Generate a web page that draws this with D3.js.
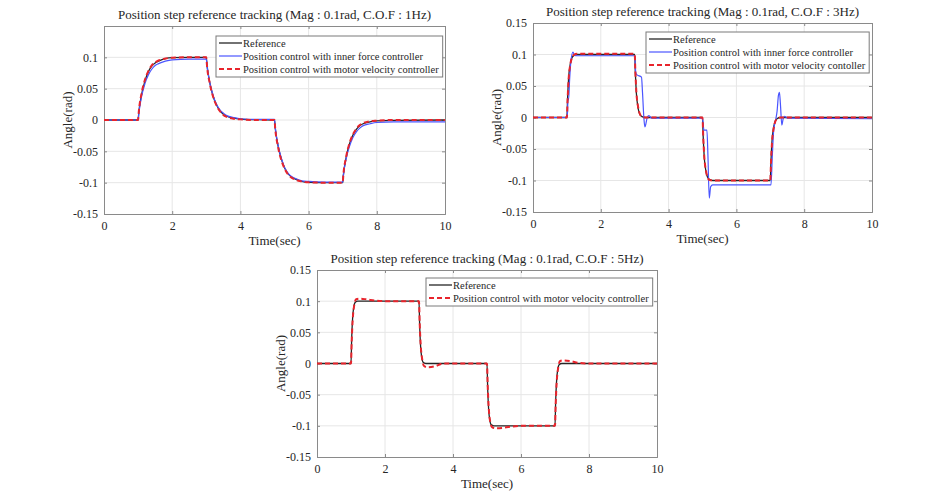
<!DOCTYPE html>
<html>
<head>
<meta charset="utf-8">
<script src="https://cdn.jsdelivr.net/npm/d3@7"></script>
<style>
body { margin: 0; background: #fff; }
text { font-family: "Liberation Serif", "DejaVu Serif", serif; fill: #262626; }
</style>
</head>
<body>
<script>
// ---- panel 1 : C.O.F 1Hz (one time base for all three series)
var t1 = [0, 1, 1.02, 1.1, 1.2, 1.3, 1.4, 1.5, 1.6, 1.8, 2, 2.5, 3, 3.02, 3.1, 3.2, 3.3, 3.4, 3.5, 3.6, 3.8, 4, 4.5, 5,
          5.02, 5.1, 5.2, 5.3, 5.4, 5.5, 5.6, 5.8, 6, 6.5, 7, 7.02, 7.1, 7.2, 7.3, 7.4, 7.5, 7.6, 7.8, 8, 8.5, 10];
var ref1 = [0, 0, 0.012, 0.04, 0.062, 0.077, 0.086, 0.091, 0.094, 0.098, 0.0995, 0.1, 0.1, 0.088, 0.06, 0.038, 0.024, 0.015, 0.009, 0.006, 0.003, 0.0015, 0.0005, 0,
            -0.012, -0.04, -0.062, -0.077, -0.086, -0.091, -0.094, -0.098, -0.0995, -0.1, -0.1, -0.088, -0.06, -0.038, -0.024, -0.015, -0.009, -0.006, -0.003, -0.0015, -0.0005, 0];
var inner1 = [0, 0, 0.01, 0.037, 0.058, 0.072, 0.081, 0.087, 0.09, 0.094, 0.096, 0.097, 0.097, 0.087, 0.06, 0.039, 0.025, 0.016, 0.011, 0.007, 0.004, 0.002, 0.001, 0.001,
              -0.011, -0.039, -0.061, -0.076, -0.085, -0.09, -0.093, -0.097, -0.098, -0.099, -0.099, -0.088, -0.062, -0.042, -0.028, -0.019, -0.013, -0.009, -0.006, -0.004, -0.003, -0.003];
var motor1 = [0, 0, 0.013, 0.042, 0.064, 0.078, 0.087, 0.092, 0.095, 0.098, 0.0995, 0.1, 0.1, 0.087, 0.059, 0.037, 0.023, 0.014, 0.008, 0.005, 0.002, 0.001, 0, 0,
              -0.013, -0.042, -0.064, -0.078, -0.087, -0.092, -0.095, -0.098, -0.0995, -0.1, -0.1, -0.087, -0.059, -0.037, -0.023, -0.014, -0.008, -0.005, -0.002, -0.001, 0, 0];

// ---- panel 2 : C.O.F 3Hz
var tRef2 = [0, 1, 1.02, 1.05, 1.1, 1.15, 1.2, 1.3, 3, 3.02, 3.05, 3.1, 3.15, 3.2, 3.3, 5, 5.02, 5.05, 5.1, 5.15, 5.2, 5.3, 7, 7.02, 7.05, 7.1, 7.15, 7.2, 7.3, 10];
var ref2 = [0, 0, 0.03, 0.062, 0.085, 0.095, 0.098, 0.1, 0.1, 0.07, 0.038, 0.015, 0.005, 0.002, 0, 0, -0.03, -0.062, -0.085, -0.095, -0.098, -0.1, -0.1, -0.07, -0.038, -0.015, -0.005, -0.002, 0, 0];
var motor2 = [0, 0, 0.028, 0.06, 0.084, 0.095, 0.099, 0.101, 0.101, 0.072, 0.04, 0.017, 0.006, 0.002, 0, 0, -0.028, -0.06, -0.084, -0.095, -0.099, -0.1, -0.1, -0.072, -0.04, -0.017, -0.006, -0.002, 0, 0];
var tInner2 = [0, 1, 1.02, 1.03, 1.05, 1.08, 1.12, 1.18, 1.22, 1.3, 3, 3.03, 3.06, 3.2, 3.23, 3.27, 3.3, 3.33, 3.37, 3.42, 3.5,
               5, 5.02, 5.04, 5.13, 5.16, 5.2, 5.24, 5.3, 7.02, 7.06, 7.1, 7.16, 7.2, 7.24, 7.27, 7.3, 7.34, 7.38, 7.42, 7.5, 10];
var inner2 = [0, 0, 0.01, 0.03, 0.028, 0.06, 0.09, 0.104, 0.099, 0.098, 0.098, 0.072, 0.068, 0.064, 0.04, 0, -0.015, -0.01, 0, 0.003, -0.001,
              -0.001, -0.01, -0.02, -0.02, -0.06, -0.128, -0.11, -0.107, -0.107, -0.06, -0.02, -0.003, 0.01, 0.035, 0.04, 0.02, -0.012, -0.002, 0.002, -0.001, -0.002];

// ---- panel 3 : C.O.F 5Hz
var tRef3 = [0, 1, 1.02, 1.05, 1.08, 1.12, 1.2, 3, 3.02, 3.05, 3.08, 3.12, 3.2, 5, 5.02, 5.05, 5.08, 5.12, 5.2, 7, 7.02, 7.05, 7.08, 7.12, 7.2, 10];
var ref3 = [0, 0, 0.04, 0.075, 0.09, 0.098, 0.1, 0.1, 0.06, 0.025, 0.01, 0.002, 0, 0, -0.04, -0.075, -0.09, -0.098, -0.1, -0.1, -0.06, -0.025, -0.01, -0.002, 0, 0];
var tMotor3 = [0, 1, 1.02, 1.05, 1.1, 1.15, 1.25, 1.45, 1.7, 2, 3, 3.02, 3.05, 3.1, 3.15, 3.25, 3.5, 3.7,
               5, 5.02, 5.05, 5.1, 5.15, 5.25, 5.5, 5.75, 6, 7, 7.02, 7.05, 7.1, 7.15, 7.25, 7.45, 7.7, 8, 10];
var motor3 = [0, 0, 0.035, 0.07, 0.095, 0.103, 0.104, 0.103, 0.101, 0.1, 0.1, 0.065, 0.03, 0.005, -0.004, -0.006, -0.004, 0,
              0, -0.035, -0.07, -0.095, -0.102, -0.104, -0.103, -0.101, -0.1, -0.1, -0.065, -0.03, -0.005, 0.004, 0.005, 0.004, 0.001, 0, 0];

var xTicks = [0, 2, 4, 6, 8, 10];
var yTicksFull = [-0.15, -0.1, -0.05, 0, 0.05, 0.1, 0.15];
var yTicksNoTop = [-0.15, -0.1, -0.05, 0, 0.05, 0.1];

var legRef = 'Reference';
var legInner = 'Position control with inner force controller';
var legMotor = 'Position control with motor velocity controller';
var legMotorTypo = 'Position control with motor velocity contoller';

var styles = {
    ref: { color: '#262626', width: 1.3, dash: null },
    inner: { color: '#4a55ff', width: 1.2, dash: null },
    motor: { color: '#e8242c', width: 2, dash: '5,3' }
};

function zip(ts, vs) {
    return ts.map(function (t, i) { return { t: t, v: vs[i] }; });
}

var svg = d3.select('body').append('svg')
    .attr('width', 936)
    .attr('height', 495);

function drawPanel(p) {
    var x = d3.scaleLinear().domain([0, 10]).range([p.left, p.right]);
    var y = d3.scaleLinear().domain([-0.15, 0.15]).range([p.bottom, p.top]);
    var g = svg.append('g');

    // grid
    g.selectAll('.gx').data(xTicks.slice(1, -1)).enter().append('line')
        .attr('x1', function (d) { return x(d); }).attr('x2', function (d) { return x(d); })
        .attr('y1', p.top).attr('y2', p.bottom)
        .attr('stroke', '#e6e6e6').attr('stroke-width', 1);
    g.selectAll('.gy').data(yTicksFull.slice(1, -1)).enter().append('line')
        .attr('y1', function (d) { return y(d); }).attr('y2', function (d) { return y(d); })
        .attr('x1', p.left).attr('x2', p.right)
        .attr('stroke', '#e6e6e6').attr('stroke-width', 1);

    // axes (ticks inside, MATLAB style)
    var fmt = function (d) { return d3.format('~g')(d).replace('−', '-'); };
    g.append('g').attr('transform', 'translate(0,' + p.bottom + ')')
        .call(d3.axisBottom(x).tickValues(xTicks).tickSize(-3).tickPadding(7).tickFormat(fmt))
        .call(styleAxis);
    g.append('g').attr('transform', 'translate(' + p.left + ',0)')
        .call(d3.axisLeft(y).tickValues(p.yTicks).tickSize(-3).tickPadding(6).tickFormat(fmt))
        .call(styleAxis);
    g.append('g').attr('transform', 'translate(0,' + p.top + ')')
        .call(d3.axisTop(x).tickValues(xTicks).tickSize(-3).tickFormat(''))
        .call(styleAxis);
    g.append('g').attr('transform', 'translate(' + p.right + ',0)')
        .call(d3.axisRight(y).tickValues(yTicksFull).tickSize(-3).tickFormat(''))
        .call(styleAxis);

    // curves
    var line = d3.line()
        .x(function (d) { return x(d.t); })
        .y(function (d) { return y(d.v); })
        .curve(d3.curveMonotoneX);
    p.series.forEach(function (s) {
        var st = styles[s.kind];
        g.append('path')
            .datum(zip(s.t, s.v))
            .attr('d', line)
            .attr('fill', 'none')
            .attr('stroke', st.color)
            .attr('stroke-width', st.width)
            .attr('stroke-dasharray', st.dash);
    });

    // labels
    g.append('text')
        .attr('x', (p.left + p.right) / 2).attr('y', p.top - 7)
        .attr('text-anchor', 'middle').attr('font-size', 13)
        .text(p.title);
    g.append('text')
        .attr('x', (p.left + p.right) / 2).attr('y', p.bottom + 31)
        .attr('text-anchor', 'middle').attr('font-size', 13)
        .text('Time(sec)');
    g.append('text')
        .attr('transform', 'translate(' + (p.left - 32) + ',' + (p.top + p.bottom) / 2 + ') rotate(-90)')
        .attr('text-anchor', 'middle').attr('font-size', 13)
        .text('Angle(rad)');

    // legend
    var leg = g.append('g').attr('transform', 'translate(' + p.legX + ',' + p.legY + ')');
    var box = leg.append('rect')
        .attr('fill', '#fff').attr('stroke', '#7a7a7a').attr('stroke-width', 1);
    var maxW = 0;
    p.series.forEach(function (s, i) {
        var st = styles[s.kind];
        var cy = 7 + i * 13;
        leg.append('line')
            .attr('x1', 3).attr('x2', 26).attr('y1', cy).attr('y2', cy)
            .attr('stroke', st.color).attr('stroke-width', st.width)
            .attr('stroke-dasharray', st.dash);
        var tx = leg.append('text')
            .attr('x', 27).attr('y', cy + 3.5)
            .attr('font-size', 10.5)
            .text(s.label);
        maxW = Math.max(maxW, tx.node().getComputedTextLength());
    });
    box.attr('x', 0).attr('y', 0)
        .attr('width', 27 + maxW + 4)
        .attr('height', 13 * p.series.length + 2);
}

function styleAxis(sel) {
    sel.select('.domain').attr('stroke', '#8a8a8a');
    sel.selectAll('.tick line').attr('stroke', '#8a8a8a');
    sel.selectAll('.tick text').attr('font-size', 12).attr('fill', '#262626')
        .style('font-family', '"Liberation Serif", serif');
}

drawPanel({
    left: 104, right: 445, top: 26, bottom: 214, yTicks: yTicksNoTop,
    title: 'Position step reference tracking (Mag : 0.1rad, C.O.F : 1Hz)',
    legX: 216, legY: 36,
    series: [
        { kind: 'ref', t: t1, v: ref1, label: legRef },
        { kind: 'inner', t: t1, v: inner1, label: legInner },
        { kind: 'motor', t: t1, v: motor1, label: legMotor }
    ]
});

drawPanel({
    left: 533, right: 872, top: 23, bottom: 212, yTicks: yTicksFull,
    title: 'Position step reference tracking (Mag : 0.1rad, C.O.F : 3Hz)',
    legX: 646, legY: 32,
    series: [
        { kind: 'ref', t: tRef2, v: ref2, label: legRef },
        { kind: 'inner', t: tInner2, v: inner2, label: legInner },
        { kind: 'motor', t: tRef2, v: motor2, label: legMotorTypo }
    ]
});

drawPanel({
    left: 317, right: 657, top: 270, bottom: 457, yTicks: yTicksFull,
    title: 'Position step reference tracking (Mag : 0.1rad, C.O.F : 5Hz)',
    legX: 426, legY: 278,
    series: [
        { kind: 'ref', t: tRef3, v: ref3, label: legRef },
        { kind: 'motor', t: tMotor3, v: motor3, label: legMotor }
    ]
});
</script>
</body>
</html>
